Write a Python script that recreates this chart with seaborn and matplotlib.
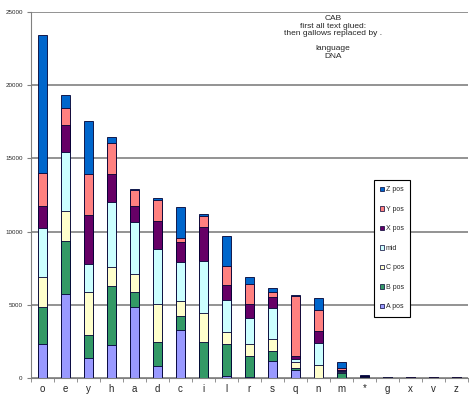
import pandas as pd
import matplotlib
matplotlib.use('Agg')
import matplotlib.pyplot as plt
from matplotlib.patches import Patch
import seaborn as sns

# Datos
letras = ['o', 'e', 'y', 'h', 'a', 'd', 'c', 'i', 'l', 'r', 's', 'q', 'n', 'm', '*', 'g', 'x', 'v', 'z']
a_pos = [2300, 5740, 1390, 2230, 4870, 800, 3260, 20, 110, 50, 1180, 550, 0, 30, 20, 10, 5, 5, 5]
b_pos = [2570, 3600, 1525, 4050, 980, 1680, 950, 2440, 2190, 1470, 640, 150, 30, 300, 30, 20, 10, 10, 10]
c_pos = [2050, 2040, 2935, 1280, 1250, 2600, 1030, 1960, 820, 780, 870, 390, 840, 80, 20, 10, 5, 5, 5]
mid = [3300, 4060, 1940, 4480, 3580, 3730, 2680, 3570, 2210, 1820, 2090, 210, 1540, 70, 30, 10, 5, 5, 5]
x_pos = [1530, 1810, 3340, 1870, 1070, 1930, 1390, 2320, 1000, 910, 730, 220, 800, 100, 30, 10, 5, 5, 5]
y_pos = [2250, 1210, 2800, 2160, 1090, 1400, 270, 780, 1340, 1370, 390, 4100, 1460, 90, 20, 10, 5, 5, 5]
z_pos = [9450, 850, 3600, 370, 90, 130, 2120, 110, 2010, 480, 270, 20, 770, 430, 30, 10, 5, 5, 5]

series = ['A pos', 'B pos', 'C pos', 'mid', 'X pos', 'Y pos', 'Z pos']
colores = {
    'A pos': '#9999FF',
    'B pos': '#339966',
    'C pos': '#FFFFCC',
    'mid': '#CCFFFF',
    'X pos': '#660066',
    'Y pos': '#FF8080',
    'Z pos': '#0066CC',
}

df = pd.DataFrame({'letra': letras, 'A pos': a_pos, 'B pos': b_pos, 'C pos': c_pos,
                   'mid': mid, 'X pos': x_pos, 'Y pos': y_pos, 'Z pos': z_pos})
acum = df[series].cumsum(axis=1)
acum['letra'] = df['letra']

sns.set_style('white')
plt.rcParams['font.family'] = ['Liberation Sans', 'DejaVu Sans']

fig = plt.figure(figsize=(4.69, 4.0), dpi=100)
ax = fig.add_axes([31 / 469, 22 / 400, 437 / 469, 366 / 400])

# Barras apiladas: dibujar de arriba hacia abajo los acumulados
for s in reversed(series):
    sns.barplot(data=acum, x='letra', y=s, color=colores[s], saturation=1,
                width=0.43, edgecolor='#000033', linewidth=0.6, ax=ax)

ax.set_ylim(0, 25000)
ax.set_xlim(-0.5, len(letras) - 0.5)
ax.set_yticks(range(0, 25001, 5000))
ax.yaxis.grid(True, color='#808080', linewidth=1.2)
ax.set_axisbelow(True)
ax.set_xlabel('')
ax.set_ylabel('')

for lado in ['top', 'right']:
    ax.spines[lado].set_visible(False)
ax.spines['left'].set_color('#808080')
ax.spines['bottom'].set_color('#808080')

ax.set_xticks([k + 0.5 for k in range(-1, len(letras))], minor=True)
ax.tick_params(axis='x', which='major', length=0, labelsize=7, pad=4)
ax.tick_params(axis='x', which='minor', length=3, color='#808080', direction='out')
ax.tick_params(axis='y', length=3, color='#808080', direction='out', labelsize=4.5, pad=3)
ax.tick_params(axis='both', bottom=True, left=True)
ax.xaxis.set_tick_params(which='minor', bottom=True)

fig.text(333 / 469, 1 - 15 / 400,
         'CAB\nfirst all text glued:\nthen gallows replaced by .\n\nlanguage\nDNA',
         ha='center', va='top', fontsize=6, linespacing=1.1)

manijas = [Patch(facecolor=colores[s], edgecolor='#000033', linewidth=0.5, label=s)
           for s in reversed(series)]
leg = ax.legend(handles=manijas, loc='upper left', bbox_to_anchor=(374 / 469, 1 - 180 / 400),
                bbox_transform=fig.transFigure, fontsize=5, handlelength=0.6, handleheight=0.6,
                labelspacing=1.8, handletextpad=0.2, borderpad=0.9, borderaxespad=0,
                fancybox=False, framealpha=1, edgecolor='black')
leg.get_frame().set_linewidth(0.8)

fig.savefig('out.png', dpi=100)
